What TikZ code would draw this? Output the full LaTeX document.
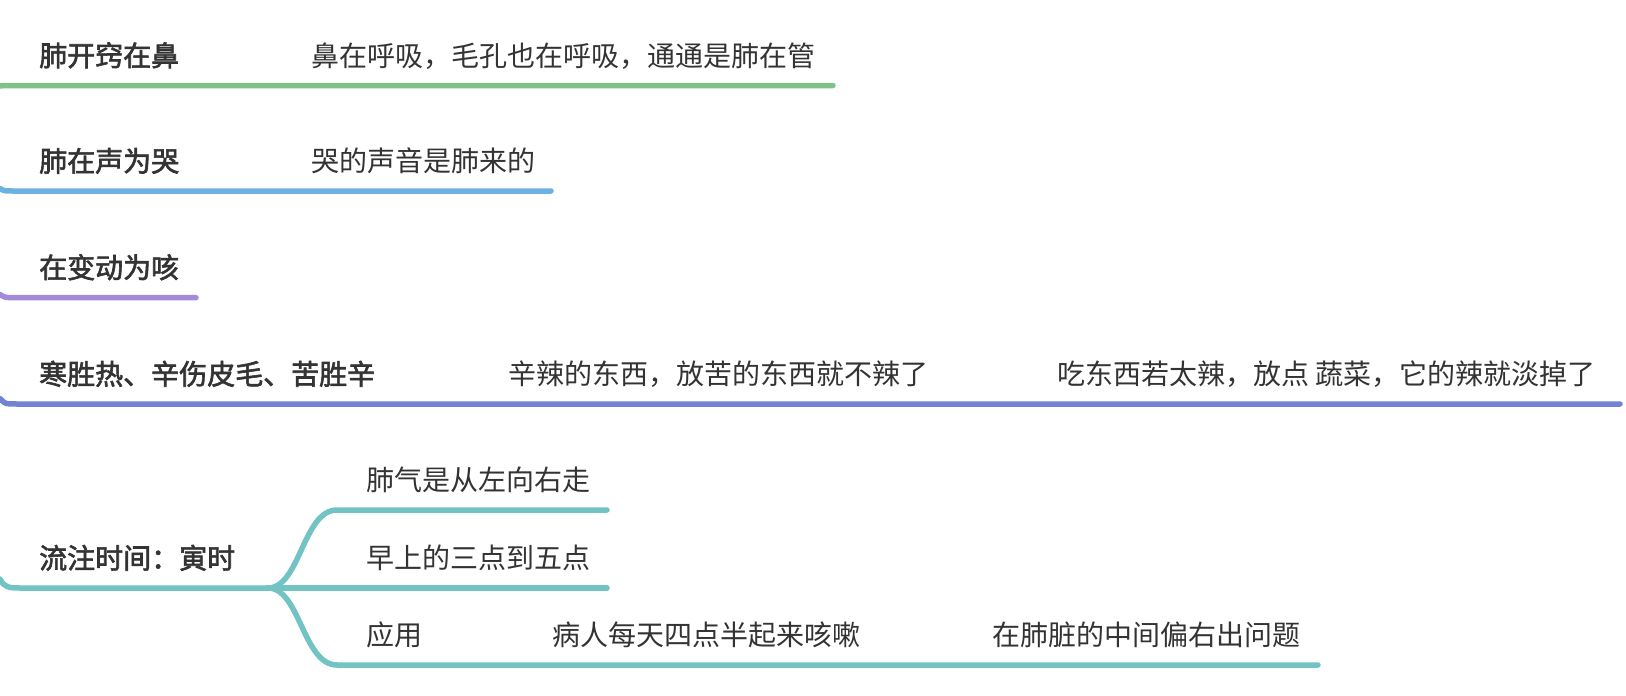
\documentclass[tikz,border=0pt]{standalone}
\usepackage{fontspec}
\setmainfont{Noto Sans CJK SC}
\newfontfamily\medfont[FakeBold=2.2]{Noto Sans CJK SC}
\definecolor{cgreen}{HTML}{7DC38A}
\definecolor{cblue}{HTML}{6CB1E1}
\definecolor{cpurple}{HTML}{A48ADB}
\definecolor{cindigo}{HTML}{7383D3}
\definecolor{cteal}{HTML}{72C3C3}
\definecolor{txt}{HTML}{333333}
\tikzset{
  branch/.style={line width=5.5pt, line cap=round},
  topic/.style={anchor=base west, inner sep=0pt, font=\fontsize{28}{30}\selectfont\medfont, text=txt},
  sub/.style={anchor=base west, inner sep=0pt, font=\fontsize{28}{30}\selectfont, text=txt},
}
\begin{document}
\begin{tikzpicture}[x=1pt, y=-1pt]
\useasboundingbox (0,0) rectangle (1626,696);
% row 1
\node[topic] (t1) at (39,66) {肺开窍在鼻};
\node[sub] (s1) at (311,66) {鼻在呼吸，毛孔也在呼吸，通通是肺在管};
\coordinate (a1) at (0,86);
\coordinate (b1) at (833,85.5);
\draw[branch, cgreen] (a1) .. controls (4,85.5) .. (12,85.5) -- (b1);
% row 2
\node[topic] (t2) at (39,171.5) {肺在声为哭};
\node[sub] (s2) at (311,171.5) {哭的声音是肺来的};
\coordinate (a2) at (0,188.5);
\coordinate (b2) at (551,191);
\draw[branch, cblue] (a2) .. controls (4,191) .. (14,191) -- (b2);
% row 3
\node[topic] (t3) at (39,278) {在变动为咳};
\coordinate (a3) at (0,294.5);
\coordinate (b3) at (196,297.7);
\draw[branch, cpurple] (a3) .. controls (5,297.7) .. (16,297.7) -- (b3);
% row 4
\node[topic] (t4) at (39,384.5) {寒胜热、辛伤皮毛、苦胜辛};
\node[sub] (s4a) at (508,384.5) {辛辣的东西，放苦的东西就不辣了};
\node[sub] (s4b) at (1057,384.5) {吃东西若太辣，放点 蔬菜，它的辣就淡掉了};
\coordinate (a4) at (0,398.5);
\coordinate (b4) at (1620,404);
\draw[branch, cindigo] (a4) .. controls (5,404) .. (18,404) -- (b4);
% row 5
\node[topic] (t5) at (39,568.5) {流注时间：寅时};
\coordinate (a5) at (0,579);
\coordinate (fork) at (268,588);
\draw[branch, cteal] (a5) .. controls (4,587) and (8,588) .. (20,588) -- (fork);
\node[sub] (c1) at (366,490.5) {肺气是从左向右走};
\node[sub] (c2) at (366,568.5) {早上的三点到五点};
\node[sub] (c3) at (366,645.5) {应用};
\node[sub] (c3a) at (552,645.5) {病人每天四点半起来咳嗽};
\node[sub] (c3b) at (992,645.5) {在肺脏的中间偏右出问题};
\coordinate (e1) at (607,510);
\coordinate (e2) at (607,588);
\coordinate (e3) at (1318,665);
\draw[branch, cteal] (fork) .. controls (300,588) and (303,510) .. (337,510) -- (e1);
\draw[branch, cteal] (fork) -- (e2);
\draw[branch, cteal] (fork) .. controls (300,588) and (303,665) .. (337,665) -- (e3);
\end{tikzpicture}
\end{document}
